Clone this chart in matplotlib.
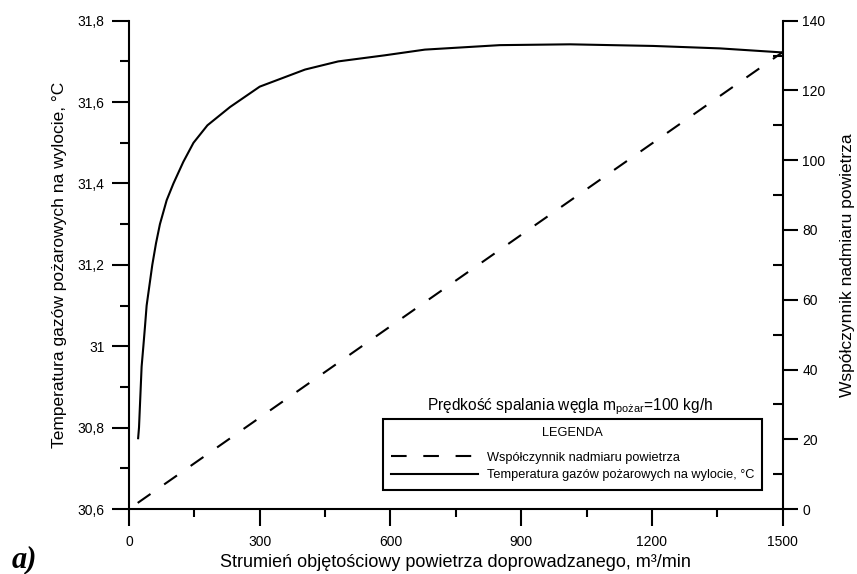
import numpy as np
import matplotlib
matplotlib.use('Agg')
import matplotlib.pyplot as plt
from matplotlib.ticker import MultipleLocator, FuncFormatter

plt.rcParams['font.family'] = ['Liberation Sans', 'DejaVu Sans']
plt.rcParams['mathtext.fontset'] = 'custom'
plt.rcParams['mathtext.rm'] = 'Liberation Sans'

# odczyty z wykresu
strumien_T = [21, 23, 27, 29, 33, 36.7, 40.5, 53.5, 62, 71, 86.5, 102, 124.6, 148,
              180, 232, 300, 404, 480, 587, 679, 851, 1012, 1203, 1356, 1500]
temperatura = [30.774, 30.80, 30.90, 30.95, 31.00, 31.048, 31.10, 31.20, 31.253, 31.30,
               31.359, 31.40, 31.453, 31.50, 31.543, 31.588, 31.638, 31.68, 31.70,
               31.715, 31.729, 31.740, 31.742, 31.738, 31.732, 31.722]
strumien_a = [20, 1500]
nadmiar = [1.75, 131]

lbl_T = 'Temperatura gazów pożarowych na wylocie, °C'
lbl_a = 'Współczynnik nadmiaru powietrza'

fig = plt.figure(figsize=(8.57, 5.74), dpi=100)
ax = fig.add_axes([0.1505, 0.1132, 0.7628, 0.8507])
ax2 = ax.twinx()

l1, = ax.plot(strumien_T, temperatura, color='black', lw=1.5, label=lbl_T,
              solid_joinstyle='round')
l2, = ax2.plot(strumien_a, nadmiar, color='black', lw=1.5, dashes=(7.5, 8), label=lbl_a)

ax.set_xlim(0, 1500)
ax.set_ylim(30.6, 31.8)
ax2.set_ylim(0, 140)

for s in ['top', 'right']:
    ax.spines[s].set_visible(False)
for s in ['top', 'left', 'bottom']:
    ax2.spines[s].set_visible(False)
for s in ['left', 'bottom']:
    ax.spines[s].set_linewidth(1.5)
ax2.spines['right'].set_linewidth(1.5)

ax.xaxis.set_major_locator(MultipleLocator(300))
ax.xaxis.set_minor_locator(MultipleLocator(150))
ax.yaxis.set_major_locator(MultipleLocator(0.2))
ax.yaxis.set_minor_locator(MultipleLocator(0.1))
ax2.yaxis.set_major_locator(MultipleLocator(20))
ax2.yaxis.set_minor_locator(MultipleLocator(10))

def przecinek(v, pos):
    s = '%.1f' % v
    s = s.rstrip('0').rstrip('.')
    return s.replace('.', ',')
ax.yaxis.set_major_formatter(FuncFormatter(przecinek))

ax.tick_params(axis='x', which='major', direction='out', length=12, width=1.5, labelsize=10, pad=7)
ax.tick_params(axis='x', which='minor', direction='out', length=6, width=1.5)
ax.tick_params(axis='y', which='major', direction='out', length=12, width=1.5, labelsize=10, pad=5.5)
ax.tick_params(axis='y', which='minor', direction='out', length=6.5, width=1.5)
ax2.tick_params(axis='y', which='major', direction='out', length=11, width=1.5, labelsize=10, pad=3)
ax2.tick_params(axis='y', which='minor', direction='in', length=7, width=1.5)

ax.set_xlabel('Strumień objętościowy powietrza doprowadzanego, m³/min', fontsize=13, labelpad=3)
ax.set_ylabel(lbl_T, fontsize=12.5)
ax2.set_ylabel(lbl_a, fontsize=12.5)
ax.yaxis.set_label_coords(-0.095, 0.5)
ax2.yaxis.set_label_coords(1.088, 0.5)

ax.text(0.6746, 0.21, r'Prędkość spalania węgla m$_{\mathrm{pożar}}$=100 kg/h',
        transform=ax.transAxes, ha='center', va='center', fontsize=11.2)

leg = ax.legend([l2, l1], [lbl_a, lbl_T], title='LEGENDA', loc='upper left',
                bbox_to_anchor=(383 / 857, 1 - 419 / 574), bbox_transform=fig.transFigure,
                borderaxespad=0, fontsize=9.15, title_fontsize=9.15, handlelength=6.8,
                handletextpad=0.7, borderpad=0.65, labelspacing=0.45, fancybox=False,
                framealpha=1, edgecolor='black')
leg.get_frame().set_linewidth(1.5)
try:
    leg._legend_box.sep = 9  # wiekszy odstep pod tytulem
except Exception:
    pass

fig.text(0.014, 0.012, 'a)', fontsize=22, fontweight='bold', style='italic',
         family=['Liberation Serif', 'DejaVu Serif'], va='baseline')

fig.savefig('out.png', dpi=100)
